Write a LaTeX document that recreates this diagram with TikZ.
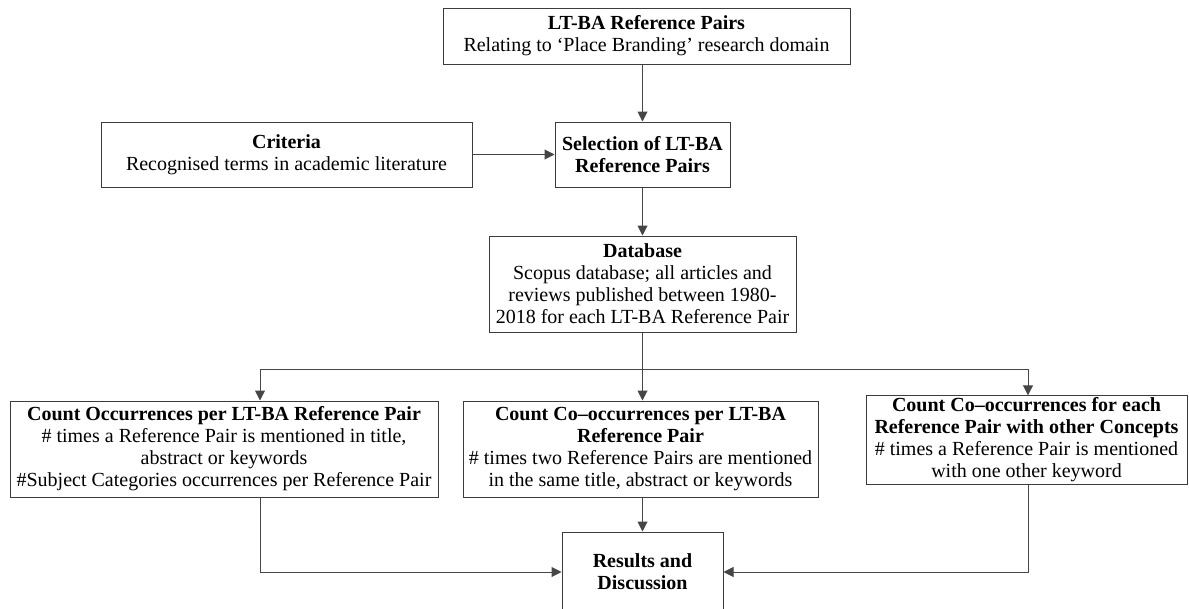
\documentclass[tikz,border=0pt]{standalone}
\usepackage{fontspec}
\setmainfont{Liberation Serif}
\usetikzlibrary{arrows.meta, positioning, calc}
\definecolor{boxgray}{RGB}{60, 60, 60}
\definecolor{arrowgray}{RGB}{70, 70, 70}
\tikzset{
    stepbox/.style={draw=boxgray, line width=1pt, align=center, inner sep=2pt,
        font=\fontsize{20}{22}\selectfont},
    flow/.style={draw=arrowgray, line width=1pt, -{Triangle[length=10pt, width=10pt]}},
    plain/.style={draw=arrowgray, line width=1pt}
}

\begin{document}
\begin{tikzpicture}[x=1pt, y=-1pt]
    \useasboundingbox (0,0) rectangle (1189,608);

    % Source of the pairs
    \node[stepbox, minimum width=407pt, minimum height=56pt] (pairs) at (646.5,36)
        {\textbf{LT-BA Reference Pairs}\\Relating to `Place Branding' research domain};

    % Selection and criteria
    \node[stepbox, minimum width=175pt, minimum height=65pt] (select) at (642.5,154.5)
        {\textbf{Selection of LT-BA}\\\textbf{Reference Pairs}};
    \node[stepbox, minimum width=371pt, minimum height=65pt] (crit) at (286.5,154.5)
        {\textbf{Criteria}\\Recognised terms in academic literature};

    % Database
    \node[stepbox, minimum width=307pt, minimum height=96pt] (dbase) at (642.5,284)
        {\textbf{Database}\\Scopus database; all articles and\\reviews published between 1980-\\2018 for each LT-BA Reference Pair};

    % Three counts
    \node[stepbox, minimum width=428pt, minimum height=96pt] (countA) at (224,449)
        {\textbf{Count Occurrences per LT-BA Reference Pair}\\\# times a Reference Pair is mentioned in title,\\abstract or keywords\\\#Subject Categories occurrences per Reference Pair};
    \node[stepbox, minimum width=355pt, minimum height=96pt] (countB) at (640.5,449)
        {\textbf{Count Co--occurrences per LT-BA}\\\textbf{Reference Pair}\\\# times two Reference Pairs  are mentioned\\in the same title, abstract or keywords};
    \node[stepbox, minimum width=321pt, minimum height=78pt] (countC) at (1026.5,440)
        {\textbf{Count Co--occurrences for each}\\\textbf{Reference Pair with other Concepts}\\\# times a Reference Pair is mentioned\\with one other keyword};

    % Results (cut at the lower edge)
    \node[stepbox, minimum width=161pt, minimum height=80pt] (results) at (642.5,572)
        {\textbf{Results and}\\\textbf{Discussion}};

    % Split points
    \coordinate (splitA) at (260,369);
    \coordinate (splitB) at (642.5,369);
    \coordinate (splitC) at (1028,369);

    % Connectors
    \draw[flow] (pairs.south -| select.north) -- (select.north);
    \draw[flow] (crit.east) -- (select.west);
    \draw[flow] (select.south) -- (dbase.north);
    \draw[plain] (dbase.south) -- (splitB);
    \draw[plain] (splitA) -- (splitC);
    \draw[flow] (splitA) -- (splitA |- countA.north);
    \draw[flow] (splitB) -- (splitB |- countB.north);
    \draw[flow] (splitC) -- (splitC |- countC.north);
    \draw[flow] (splitA |- countA.south) |- (results.west);
    \draw[flow] (splitB |- countB.south) -- (results.north);
    \draw[flow] (splitC |- countC.south) |- (results.east);
\end{tikzpicture}
\end{document}
